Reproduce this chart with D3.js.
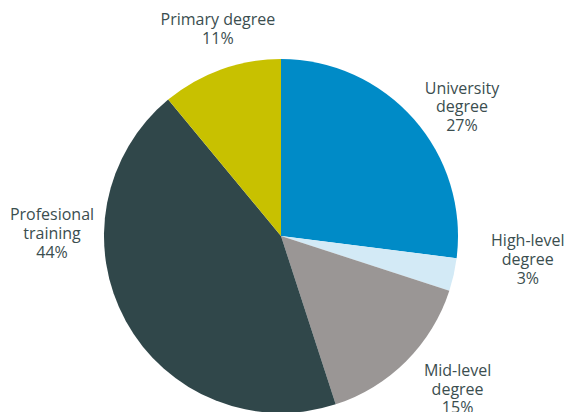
<!DOCTYPE html>
<html>
<head>
<meta charset="utf-8">
<script src="https://cdn.jsdelivr.net/npm/d3@7"></script>
<style>
  body { margin: 0; background: #fff; }
  svg { display: block; }
  text { font-family: "Open Sans", "Noto Sans", sans-serif; fill: #3b4e4f; }
</style>
</head>
<body>
<svg id="chart" width="568" height="412"></svg>
<script>
const categories = ["University degree", "High-level degree", "Mid-level degree", "Profesional training", "Primary degree"];
const labelLines = [["University", "degree"], ["High-level", "degree"], ["Mid-level", "degree"], ["Profesional", "training"], ["Primary degree"]];
const values = [27, 3, 15, 44, 11];
const colors = ["#008bc7", "#d3eaf6", "#9a9695", "#30474a", "#c8c100"];

const width = 568, height = 412;
const cx = 281, cy = 236, r = 177;
const svg = d3.select("#chart");
const g = svg.append("g").attr("transform", `translate(${cx},${cy})`);

const pie = d3.pie().sort(null).value(d => d)(values);
const arc = d3.arc().innerRadius(0).outerRadius(r);

g.selectAll("path.slice").data(pie).join("path")
  .attr("class", "slice")
  .attr("d", arc)
  .attr("fill", (d, i) => colors[i]);

// label placement: polar around the centre, nudged per label
const labelRadius = [222, 248, 234, 229, 216];
const labelAngleShift = [6, -7, -4, 29.3, 2.8]; // degrees
const lineH = 18.8;

pie.forEach((d, i) => {
  const a = (d.startAngle + d.endAngle) / 2 + labelAngleShift[i] * Math.PI / 180;
  const x = Math.sin(a) * labelRadius[i];
  const y = -Math.cos(a) * labelRadius[i];
  const lines = labelLines[i].concat([d3.format(".0f")(values[i]) + "%"]);
  const t = g.append("text")
    .attr("text-anchor", "middle")
    .attr("font-size", 16)
    .attr("transform", `translate(${x},${y})`);
  const y0 = -((lines.length - 1) * lineH) / 2 + 5;
  lines.forEach((ln, k) => {
    t.append("tspan").attr("x", 0).attr("y", y0 + k * lineH).text(ln);
  });
});
</script>
</body>
</html>
